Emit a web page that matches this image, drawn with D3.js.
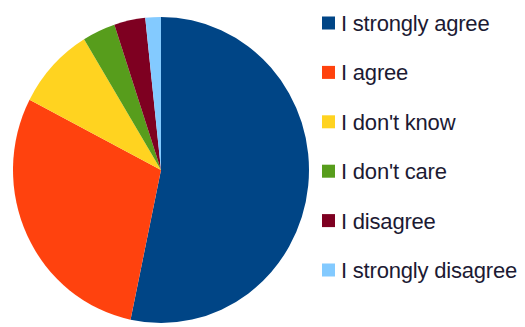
<!DOCTYPE html>
<html>
<head>
<meta charset="utf-8">
<script src="https://cdn.jsdelivr.net/npm/d3@7/dist/d3.min.js"></script>
<style>
  body { margin: 0; background: #fff; }
  svg { display: block; }
</style>
</head>
<body>
<div id="wrapper"></div>
<script>
const categories = ["I strongly agree", "I agree", "I don't know", "I don't care", "I disagree", "I strongly disagree"];
const values = [53.3, 29.3, 8.7, 3.6, 3.4, 1.7];
const colors = ["#004586", "#ff420e", "#ffd320", "#579d1c", "#7e0021", "#83caff"];

function buildChart() {
    const dimension = {
        width: 525,
        height: 327,
        cx: 161,
        cy: 170,
        rx: 148,
        ry: 153
    };

    const svg = d3.select("#wrapper").append("svg")
        .attr("width", dimension.width)
        .attr("height", dimension.height);

    const pie = d3.pie().sort(null).value(d => d);
    const arc = d3.arc().innerRadius(0).outerRadius(dimension.rx);

    const color = d3.scaleOrdinal().domain(categories).range(colors);

    // pie is a little taller than wide in the picture
    const pieGroup = svg.append("g")
        .attr("transform", `translate(${dimension.cx},${dimension.cy}) scale(1,${dimension.ry / dimension.rx})`);

    pieGroup.selectAll("path")
        .data(pie(values))
        .join("path")
        .attr("d", arc)
        .attr("fill", (d, i) => color(categories[i]));

    // legend
    const legendY = d3.scalePoint()
        .domain(categories)
        .range([23, 270]);

    const legend = svg.append("g");
    const rows = legend.selectAll("g")
        .data(categories)
        .join("g")
        .attr("transform", d => `translate(322,${legendY(d)})`);

    rows.append("rect")
        .attr("x", 0)
        .attr("y", -6.5)
        .attr("width", 13)
        .attr("height", 13)
        .attr("fill", d => color(d));

    rows.append("text")
        .attr("x", 19)
        .attr("y", 0)
        .attr("dy", "0.36em")
        .attr("font-family", "Liberation Sans, Arial, sans-serif")
        .attr("font-size", 22)
        .attr("letter-spacing", -0.2)
        .attr("fill", "#1c1a33")
        .text(d => d);
}

buildChart();
</script>
</body>
</html>
